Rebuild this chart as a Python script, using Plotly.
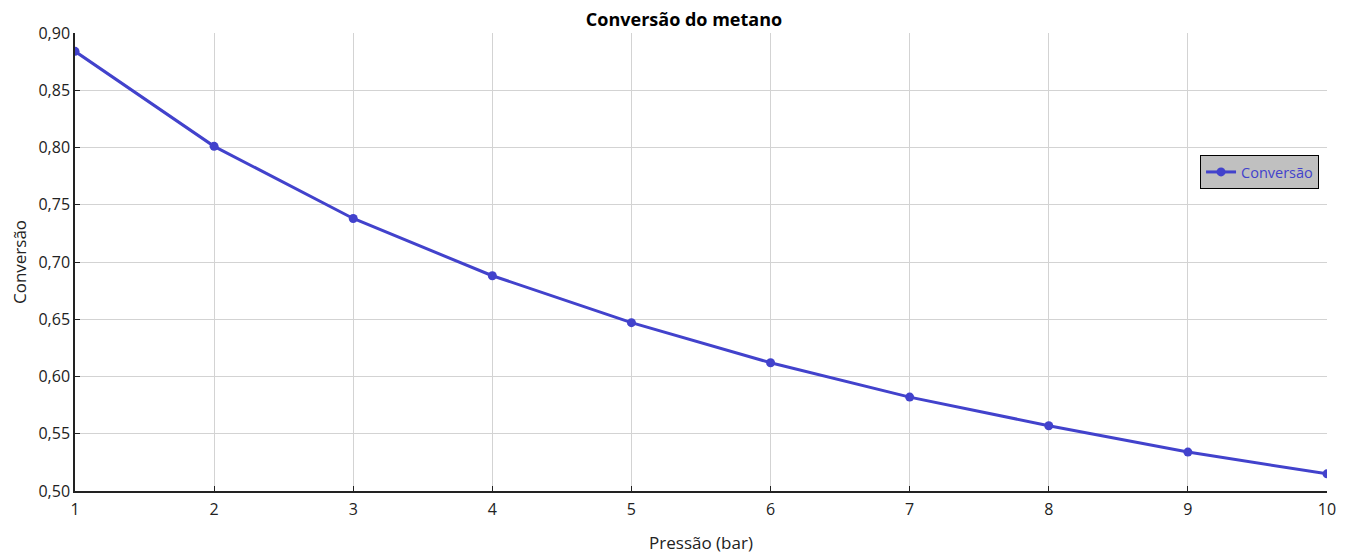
import plotly.graph_objects as go

pressao = [1, 2, 3, 4, 5, 6, 7, 8, 9, 10]
conversao = [0.884, 0.801, 0.738, 0.688, 0.647, 0.612, 0.582, 0.557, 0.534, 0.515]
y_ticks = [0.50, 0.55, 0.60, 0.65, 0.70, 0.75, 0.80, 0.85, 0.90]
y_labels = [f"{v:.2f}".replace(".", ",") for v in y_ticks]

color = "#4242cc"
fig = go.Figure()
fig.add_trace(go.Scatter(
    x=pressao, y=conversao, mode="lines+markers", name="Conversão",
    line=dict(color=color, width=3), marker=dict(color=color, size=9),
))

font = "Open Sans, Noto Sans, sans-serif"
fig.update_layout(
    width=1352, height=556,
    margin=dict(l=67, r=33, t=25, b=73, autoexpand=False),
    paper_bgcolor="white", plot_bgcolor="white",
    font=dict(family=font, size=16, color="#222222"),
    title=dict(text="<b>Conversão do metano</b>", x=0.5, xanchor="center",
               xref="container", yref="container",
               y=1 - 12 / 556, yanchor="middle", font=dict(size=18, color="#000000")),
    showlegend=True,
    legend=dict(x=0.8986, y=0.7336, xanchor="left", yanchor="top",
                bgcolor="#c0c0c0", bordercolor="#000000", borderwidth=1,
                font=dict(size=14.5, color=color)),
)
fig.update_xaxes(
    range=[1, 10], tickvals=pressao, ticktext=[str(v) for v in pressao],
    showgrid=True, gridcolor="#d3d3d3", gridwidth=1,
    showline=True, linecolor="#222222", linewidth=1.5,
    ticks="inside", ticklen=5, tickcolor="#222222",
    ticklabelstandoff=3, automargin=False,
    title=dict(text="Pressão (bar)", font=dict(size=17), standoff=18),
    zeroline=False,
)
fig.update_yaxes(
    range=[0.50, 0.90], tickvals=y_ticks, ticktext=y_labels,
    showgrid=True, gridcolor="#d3d3d3", gridwidth=1,
    showline=True, linecolor="#222222", linewidth=1.5,
    ticks="inside", ticklen=5, tickcolor="#222222",
    automargin=False,
    title=dict(text="Conversão", font=dict(size=17), standoff=10),
    zeroline=False,
)
fig.write_html("out.html")
